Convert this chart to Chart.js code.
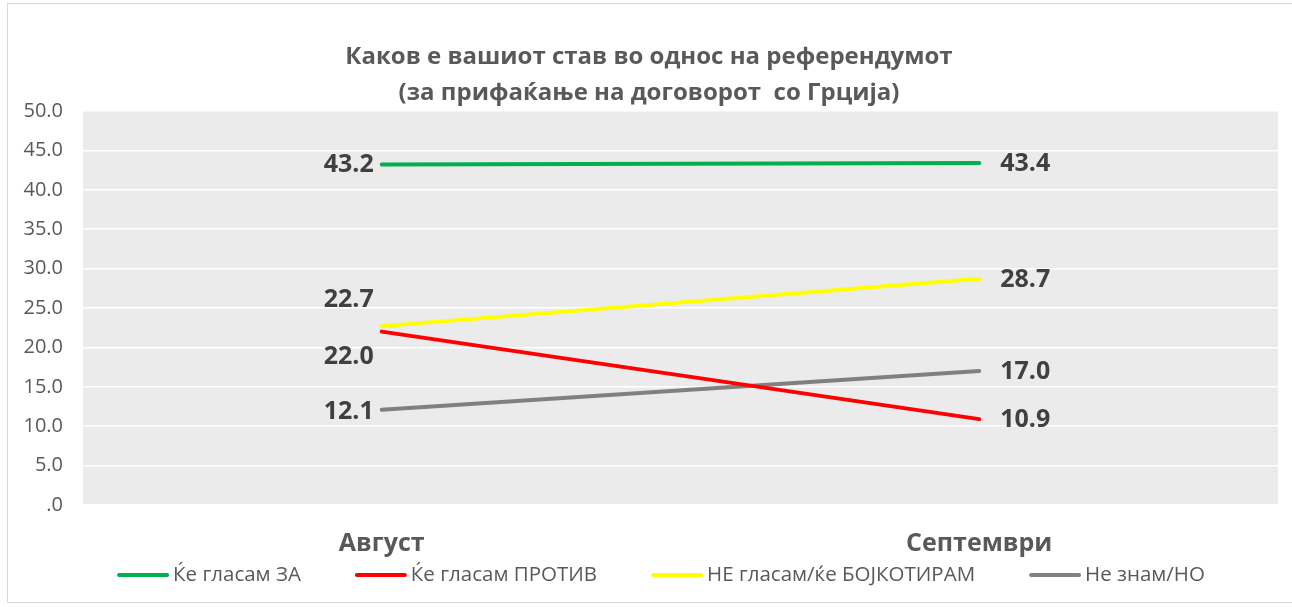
<!DOCTYPE html>
<html>
<head>
<meta charset="utf-8">
<script src="https://cdn.jsdelivr.net/npm/chart.js@4.4.0/dist/chart.umd.min.js"></script>
<style>
  html, body { margin: 0; padding: 0; background: #fff; }
  #frame {
    position: absolute; left: 7px; top: 3px; width: 1290px; height: 600px;
    border: 1px solid #d9d9d9; box-sizing: border-box;
  }
  #wrap { position: absolute; left: 0; top: 0; width: 1292px; height: 607px; }
</style>
</head>
<body>
<div id="frame"></div>
<div id="wrap"><canvas id="c" width="1292" height="607"></canvas></div>
<script>
const months = ['Август', 'Септември'];
const seriesNames = ['Ќе гласам ЗА', 'Ќе гласам ПРОТИВ', 'НЕ гласам/ќе БОЈКОТИРАМ', 'Не знам/НО'];
const zaValues = [43.2, 43.4];
const protivValues = [22.0, 10.9];
const bojkotValues = [22.7, 28.7];
const neZnamValues = [12.1, 17.0];
const seriesColors = ['#00b050', '#ff0000', '#ffff00', '#808080'];
const yTicks = [0, 5, 10, 15, 20, 25, 30, 35, 40, 45, 50];

const FONT = "'Open Sans', 'Noto Sans', sans-serif";

// vertical nudge for the August labels, so 22.7 and 22.0 don't collide
const augOffsets = [0, 25, -26, 2];

const bgPlugin = {
  id: 'plotBg',
  beforeDraw(chart) {
    const { ctx, chartArea: a } = chart;
    ctx.save();
    ctx.fillStyle = '#ebebeb';
    ctx.fillRect(a.left, a.top, a.right - a.left, a.bottom - a.top);
    ctx.restore();
  }
};

const labelPlugin = {
  id: 'valueLabels',
  afterDatasetsDraw(chart) {
    const ctx = chart.ctx;
    ctx.save();
    ctx.font = 'bold 25px ' + FONT;
    ctx.fillStyle = '#404040';
    ctx.textBaseline = 'middle';
    chart.data.datasets.forEach((ds, i) => {
      const meta = chart.getDatasetMeta(i);
      meta.data.forEach((pt, j) => {
        const txt = ds.data[j].toFixed(1);
        if (j === 0) {
          ctx.textAlign = 'right';
          ctx.fillText(txt, pt.x - 8, pt.y + augOffsets[i]);
        } else {
          ctx.textAlign = 'left';
          ctx.fillText(txt, pt.x + 21, pt.y + 1);
        }
      });
    });
    ctx.restore();
  }
};

// legend drawn by hand: Chart.js legend padding also grows its height
const legendPlugin = {
  id: 'lineLegend',
  afterDraw(chart) {
    const ctx = chart.ctx;
    const lineLen = 52, gapText = 4, gapItem = 54;
    ctx.save();
    ctx.font = '20.5px ' + FONT;
    const widths = seriesNames.map(n => lineLen + gapText + ctx.measureText(n).width);
    const total = widths.reduce((a, b) => a + b, 0) + gapItem * (widths.length - 1);
    let x = 661 - total / 2;
    const y = 575;
    ctx.textBaseline = 'middle';
    ctx.textAlign = 'left';
    seriesNames.forEach((n, i) => {
      ctx.strokeStyle = seriesColors[i];
      ctx.lineWidth = 4;
      ctx.lineCap = 'round';
      ctx.beginPath();
      ctx.moveTo(x + 2, y);
      ctx.lineTo(x + lineLen - 2, y);
      ctx.stroke();
      ctx.fillStyle = '#595959';
      ctx.fillText(n, x + lineLen + gapText, y);
      x += widths[i] + gapItem;
    });
    ctx.restore();
  }
};

const datasets = [zaValues, protivValues, bojkotValues, neZnamValues].map((vals, i) => ({
  label: seriesNames[i],
  data: vals,
  borderColor: seriesColors[i],
  backgroundColor: seriesColors[i],
  borderWidth: 4,
  pointRadius: 0,
  tension: 0,
  borderCapStyle: 'round',
  order: i
}));

new Chart(document.getElementById('c'), {
  type: 'line',
  data: { labels: months, datasets },
  options: {
    responsive: false,
    animation: false,
    layout: { padding: { left: 20, right: 14, top: 20, bottom: 47 } },
    plugins: {
      title: {
        display: true,
        text: ['Каков е вашиот став во однос на референдумот', '(за прифаќање на договорот  со Грција)'],
        color: '#595959',
        font: { family: FONT, size: 24, weight: 'bold', lineHeight: 1.5 },
        padding: { top: 19, bottom: 0 }
      },
      legend: { display: false },
      tooltip: { enabled: false }
    },
    scales: {
      x: {
        offset: true,
        grid: { display: false },
        border: { display: false },
        afterFit(scale) { scale.height = 55; },
        ticks: { color: '#595959', font: { family: FONT, size: 25, weight: 'bold' }, padding: 16 }
      },
      y: {
        min: 0,
        max: 50,
        afterBuildTicks(scale) { scale.ticks = yTicks.map(v => ({ value: v })); },
        afterFit(scale) { scale.width = 63; },
        grid: { color: '#ffffff', lineWidth: 1.5, drawTicks: false },
        border: { display: false },
        ticks: {
          color: '#595959',
          font: { family: FONT, size: 20 },
          padding: 20,
          callback: v => v === 0 ? '.0' : v.toFixed(1)
        }
      }
    }
  },
  plugins: [bgPlugin, labelPlugin, legendPlugin]
});
</script>
</body>
</html>
